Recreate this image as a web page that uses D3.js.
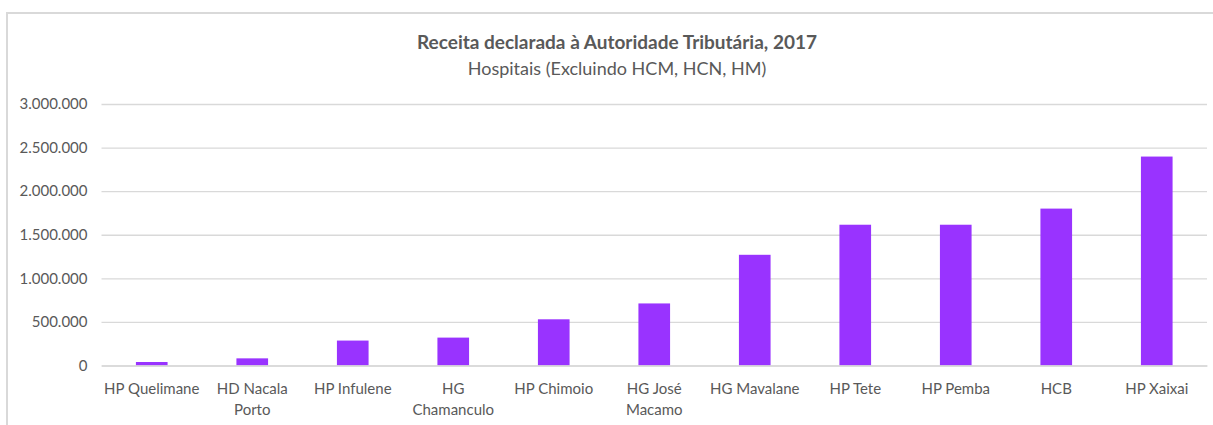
<!DOCTYPE html>
<html>
<head>
<meta charset="utf-8">
<script src="https://cdn.jsdelivr.net/npm/d3@7"></script>
<style>
  body { margin: 0; background: #fff; }
  svg { display: block; font-family: Lato, "Open Sans", sans-serif; }
</style>
</head>
<body>
<div id="chart"></div>
<script>
// data
var categories = ["HP Quelimane", "HD Nacala Porto", "HP Infulene", "HG Chamanculo", "HP Chimoio",
    "HG José Macamo", "HG Mavalane", "HP Tete", "HP Pemba", "HCB", "HP Xaixai"]
var receita = [40000, 82000, 286000, 320000, 530000, 712000, 1270000, 1615000, 1615000, 1800000, 2397000]
var xTickLabels = [["HP Quelimane"], ["HD Nacala", "Porto"], ["HP Infulene"], ["HG", "Chamanculo"], ["HP Chimoio"],
    ["HG José", "Macamo"], ["HG Mavalane"], ["HP Tete"], ["HP Pemba"], ["HCB"], ["HP Xaixai"]]
var yTicks = [0, 500000, 1000000, 1500000, 2000000, 2500000, 3000000]

var width = 1213
var height = 425
var margin = { top: 104, right: 6, bottom: 59.5, left: 101.5 }

var svg = d3.select("#chart")
    .append("svg")
    .attr("width", width)
    .attr("height", height)

// chart area frame (only top and left visible in the crop)
svg.append("path")
    .attr("d", "M7,425 V13 H" + width)
    .attr("fill", "none")
    .attr("stroke", "#d9d9d9")
    .attr("stroke-width", 2)

// titles
svg.append("text")
    .attr("x", 617).attr("y", 49)
    .attr("text-anchor", "middle")
    .style("font-size", "19px")
    .style("font-weight", "bold")
    .style("fill", "#595959")
    .text("Receita declarada à Autoridade Tributária, 2017")

svg.append("text")
    .attr("x", 617).attr("y", 75)
    .attr("text-anchor", "middle")
    .style("font-size", "18px")
    .style("fill", "#595959")
    .text("Hospitais (Excluindo HCM, HCN, HM)")

var x = d3.scaleBand()
    .domain(categories)
    .range([margin.left, width - margin.right])
    .paddingInner(0.685)
    .paddingOuter(0.3425)

var y = d3.scaleLinear()
    .domain([0, 3000000])
    .range([height - margin.bottom, margin.top])

var fmt = function(d) { return d3.format(",")(d).replace(/,/g, ".") }

// y axis (labels + gridlines)
var yAxis = svg.append("g")
    .attr("transform", "translate(" + margin.left + ",0)")
    .call(d3.axisLeft(y)
        .tickValues(yTicks)
        .tickFormat(fmt)
        .tickSize(-(width - margin.right - margin.left))
        .tickPadding(14))
yAxis.select(".domain").remove()
yAxis.selectAll(".tick line")
    .attr("stroke", "#d9d9d9")
    .attr("stroke-width", 1.3)
yAxis.selectAll(".tick text")
    .style("font-size", "15px")
    .style("fill", "#595959")
    .style("font-family", "Lato, sans-serif")

// bars
svg.selectAll(".bar")
    .data(receita)
    .enter()
    .append("rect")
    .attr("class", "bar")
    .attr("x", function(d, i) { return x(categories[i]) })
    .attr("width", x.bandwidth())
    .attr("y", function(d) { return y(d) })
    .attr("height", function(d) { return y(0) - y(d) })
    .attr("fill", "#9933ff")

// x axis baseline
var xAxis = svg.append("g")
    .attr("transform", "translate(0," + y(0) + ")")
    .call(d3.axisBottom(x).tickSize(0).tickFormat(""))
xAxis.select(".domain")
    .attr("stroke", "#d9d9d9")
    .attr("stroke-width", 1.5)

// category labels, wrapped like the original
xAxis.selectAll(".tick").each(function(d, i) {
    var t = d3.select(this).append("text")
        .attr("text-anchor", "middle")
        .style("font-size", "15px")
        .style("fill", "#595959")
        .style("font-family", "Lato, sans-serif")
    xTickLabels[i].forEach(function(line, j) {
        t.append("tspan")
            .attr("x", 0)
            .attr("y", 28 + j * 21)
            .text(line)
    })
})
</script>
</body>
</html>
